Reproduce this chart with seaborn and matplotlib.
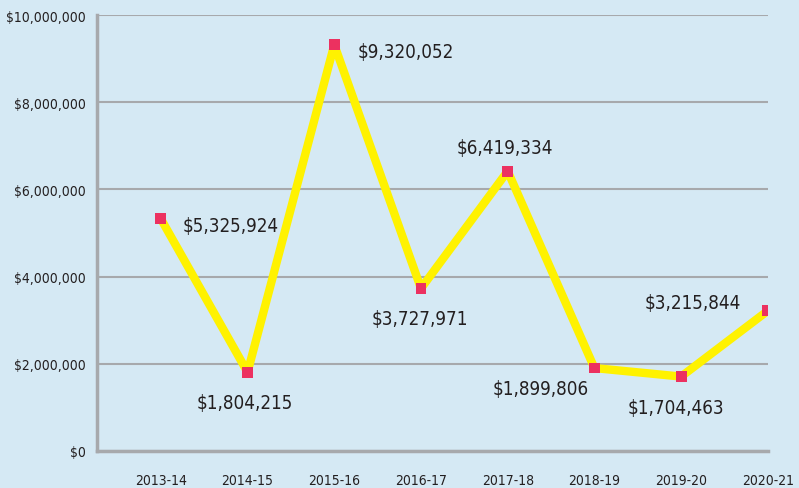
import pandas as pd
import matplotlib.pyplot as plt
import seaborn as sns

# данные
years = ['2013-14', '2014-15', '2015-16', '2016-17', '2017-18', '2018-19', '2019-20', '2020-21']
amounts = [5325924, 1804215, 9320052, 3727971, 6419334, 1899806, 1704463, 3215844]
y_ticks = [0, 2000000, 4000000, 6000000, 8000000, 10000000]

df = pd.DataFrame({'year': years, 'amount': amounts})
df['pos'] = range(len(years))

bg = '#d5e9f4'
sns.set_theme(style='white')
plt.rcParams['font.family'] = ['DejaVu Sans']
plt.rcParams['font.stretch'] = 'condensed'

fig = plt.figure(figsize=(7.99, 4.89), dpi=100, facecolor=bg)
ax = fig.add_axes([0.121, 0.076, 0.84, 0.891])
ax.set_facecolor(bg)

sns.lineplot(data=df, x='pos', y='amount', color='#fff200', linewidth=6, ax=ax, zorder=2)
sns.scatterplot(data=df, x='pos', y='amount', marker='s', s=60, color='#ec3160',
                edgecolor='none', ax=ax, zorder=3)

# подписи значений (смещения в пунктах)
offsets = [(16, -5), (-2, -22), (17, -5), (-1, -22), (-2, 17), (-4, -15), (-4, -22), (-19, 6)]
aligns = ['left', 'center', 'left', 'center', 'center', 'right', 'center', 'right']
for i, v in enumerate(amounts):
    ax.annotate('${:,}'.format(v), (i, v), xytext=offsets[i], textcoords='offset points',
                ha=aligns[i], va='center', fontsize=13.5, color='#231f20')

ax.set_xlim(-0.74, 7)
ax.set_ylim(0, 10000000)
ax.set_xticks(df['pos'])
ax.set_xticklabels(years)
ax.set_yticks(y_ticks)
ax.set_yticklabels(['${:,}'.format(t) for t in y_ticks])
ax.yaxis.grid(True, color='#a7a9ac', linewidth=1.5)
ax.set_axisbelow(True)
ax.tick_params(axis='x', direction='in', length=6, width=1.2, color='#a7a9ac',
               labelsize=10, pad=16, labelcolor='#231f20')
ax.tick_params(axis='y', length=0, labelsize=10, pad=8, labelcolor='#231f20')
for s in ['top', 'right']:
    ax.spines[s].set_visible(False)
for s in ['left', 'bottom']:
    ax.spines[s].set_color('#a7a9ac')
    ax.spines[s].set_linewidth(2.5)
ax.set_xlabel('')
ax.set_ylabel('')

plt.savefig('out.png', dpi=100, facecolor=bg)
